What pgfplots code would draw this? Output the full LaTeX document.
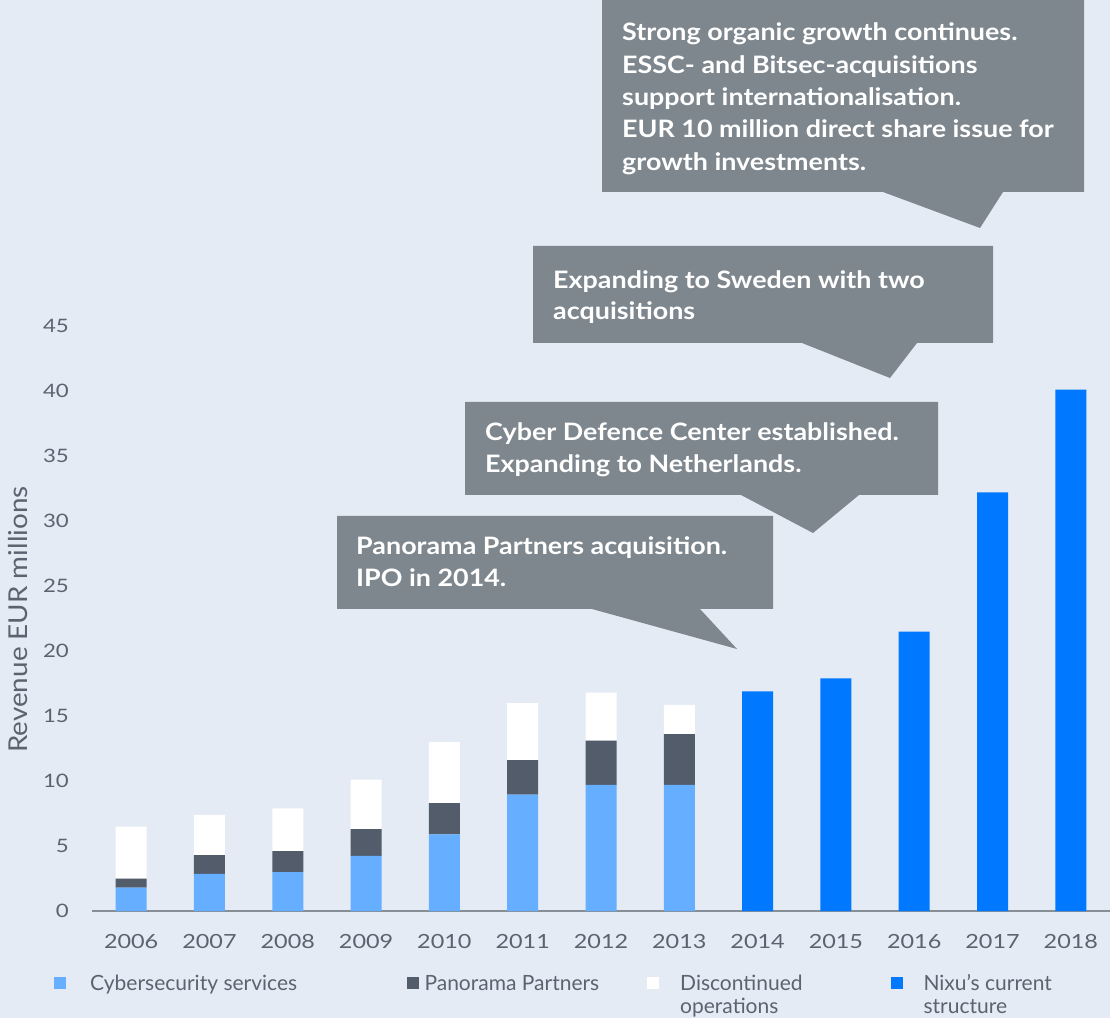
\documentclass[border=0pt]{standalone}
\usepackage{fontspec}
\setmainfont{Lato}
\newfontfamily\calloutfont[FakeStretch=1.12]{Lato}
\newfontfamily\tickfont[FakeStretch=1.2]{Lato}
\newfontfamily\labfont[FakeStretch=1.07]{Lato}
\usepackage{pgfplots}
\pgfplotsset{compat=1.18}
\definecolor{bg}{HTML}{E4EBF5}
\definecolor{cyber}{HTML}{66AEFF}
\definecolor{panorama}{HTML}{525C6B}
\definecolor{current}{HTML}{0078FF}
\definecolor{callout}{HTML}{7E878E}
\definecolor{txt}{HTML}{5B6370}
\definecolor{axiscol}{HTML}{868E96}
\begin{document}
\begin{tikzpicture}[x=1pt,y=1pt]
\useasboundingbox (0,0) rectangle (1110,1018);
\fill[bg] (0,0) rectangle (1110,1018);
\begin{axis}[
  at={(92pt,107pt)}, anchor=south west,
  scale only axis, width=1018pt, height=585pt,
  xmin=-0.5, xmax=12.5, ymin=0, ymax=45,
  ybar stacked, bar width=31pt,
  axis lines=left,
  x axis line style={-, draw=axiscol, line width=2.5pt},
  y axis line style={draw=none},
  major tick length=0pt,
  xtick={0,...,12},
  xticklabels={2006,2007,2008,2009,2010,2011,2012,2013,2014,2015,2016,2017,2018},
  ytick={0,5,...,45},
  /pgf/number format/assume math mode=true,
  tick label style={font=\tickfont\fontsize{19.5}{24}\selectfont, text=txt},
  xticklabel style={anchor=north, inner sep=0pt, yshift=-23pt},
  yticklabel style={anchor=east, inner sep=0pt, xshift=-23pt, font=\tickfont\fontsize{18.5}{24}\selectfont},
  clip=false,
]
\addplot[fill=cyber, draw=none] coordinates {(0,1.8) (1,2.85) (2,3.0) (3,4.25) (4,5.9) (5,8.95) (6,9.7) (7,9.7) (8,0) (9,0) (10,0) (11,0) (12,0)};
\addplot[fill=panorama, draw=none] coordinates {(0,0.7) (1,1.45) (2,1.6) (3,2.05) (4,2.4) (5,2.65) (6,3.4) (7,3.9) (8,0) (9,0) (10,0) (11,0) (12,0)};
\addplot[fill=white, draw=none] coordinates {(0,4.0) (1,3.1) (2,3.3) (3,3.8) (4,4.7) (5,4.4) (6,3.7) (7,2.25) (8,0) (9,0) (10,0) (11,0) (12,0)};
\addplot[fill=current, draw=none] coordinates {(0,0) (1,0) (2,0) (3,0) (4,0) (5,0) (6,0) (7,0) (8,16.9) (9,17.9) (10,21.5) (11,32.2) (12,40.1)};
\end{axis}
% y label
\node[anchor=base, rotate=90, inner sep=0pt, text=txt, font=\labfont\fontsize{26}{30}\selectfont] at (27.3,398.5) {Revenue EUR millions};
% callouts
\fill[callout] (602,1018) -- (1084,1018) -- (1084,826) -- (1003,826) -- (980,790) -- (883,826) -- (602,826) -- cycle;
\fill[callout] (533,772) -- (993,772) -- (993,675) -- (917,675) -- (890,640) -- (802,675) -- (533,675) -- cycle;
\fill[callout] (465,616) -- (938,616) -- (938,523) -- (859,523) -- (813,485) -- (741,523) -- (465,523) -- cycle;
\fill[callout] (337,502) -- (773,502) -- (773,409) -- (700,409) -- (737,369) -- (592,409) -- (337,409) -- cycle;
\tikzset{ct/.style={anchor=base west, inner sep=0pt, text=white, font=\calloutfont\bfseries\fontsize{24}{29}\selectfont}}
\node[ct] at (622,977) {Strong organic growth continues.};
\node[ct] at (622,944.7) {ESSC- and Bitsec-acquisitions};
\node[ct] at (622,912.4) {support internationalisation.};
\node[ct] at (622,880.1) {EUR 10 million direct share issue for};
\node[ct] at (622,847.8) {growth investments.};
\node[ct] at (553,729.7) {Expanding to Sweden with two};
\node[ct] at (553,698) {acquisitions};
\node[ct] at (485,577) {Cyber Defence Center established.};
\node[ct] at (485,545) {Expanding to Netherlands.};
\node[ct] at (356,463) {Panorama Partners acquisition.};
\node[ct] at (356,431.3) {IPO in 2014.};
% legend
\tikzset{lt/.style={anchor=base west, inner sep=0pt, text=txt, font=\fontsize{21}{25}\selectfont}}
\fill[cyber] (54,28.7) rectangle (66,40.7);
\node[lt] at (90,28) {Cybersecurity services};
\fill[panorama] (407,28.7) rectangle (419,40.7);
\node[lt] at (424.3,28) {Panorama Partners};
\fill[white] (647,28.7) rectangle (659,40.7);
\node[lt] at (680,28) {Discontinued};
\node[lt] at (680,5) {operations};
\fill[current] (891,28.7) rectangle (903,40.7);
\node[lt] at (923.3,28) {Nixu’s current};
\node[lt] at (923.3,5) {structure};
\end{tikzpicture}
\end{document}
